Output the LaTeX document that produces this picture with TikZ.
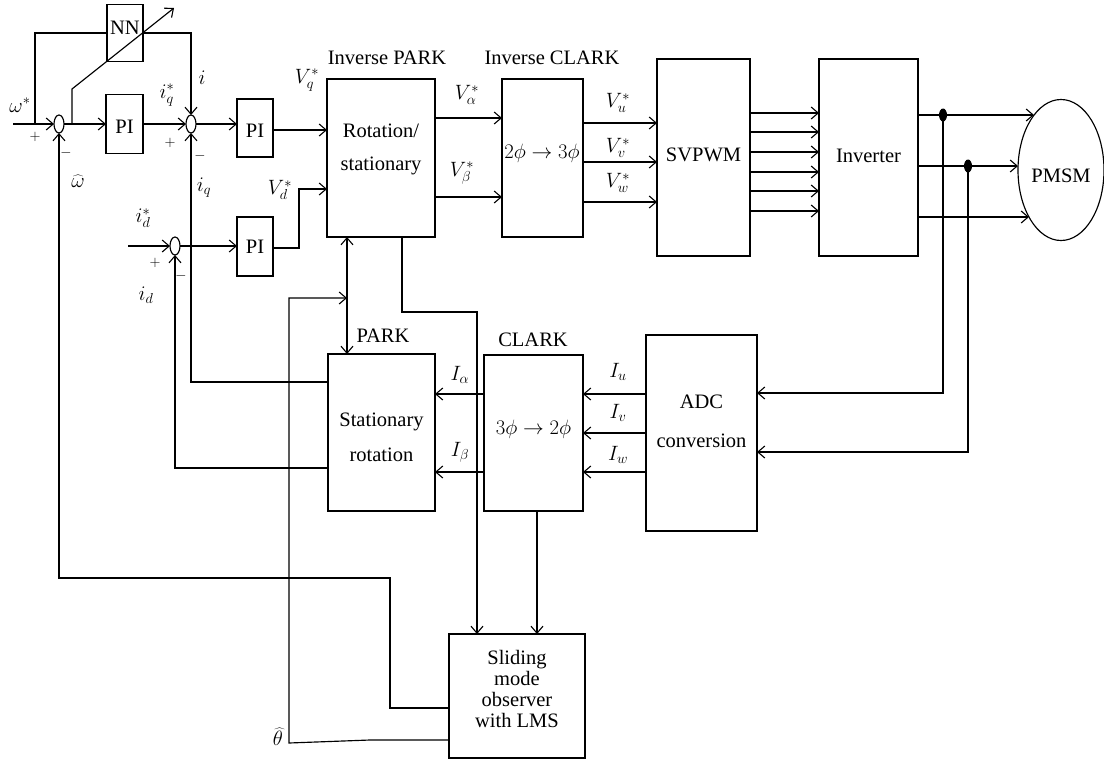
\documentclass[tikz,border=0pt]{standalone}
\usepackage{fontspec}
\setmainfont{Liberation Serif}
\usetikzlibrary{arrows.meta,shapes.geometric}
\begin{document}
\begin{tikzpicture}[x=1pt,y=-1pt,line width=1.15pt,
  every node/.style={font=\fontsize{20.5}{22}\selectfont},
  box/.style={draw,rectangle,inner sep=0pt,outer sep=0pt},
  sumj/.style={draw,ellipse,minimum width=10,minimum height=18,inner sep=0pt,outer sep=0pt},
  dotj/.style={fill,ellipse,minimum width=8,minimum height=13,inner sep=0pt},
  arr/.style={-{Straight Barb[length=7pt,width=12pt,line width=1.1pt]}},
  barr/.style={{Straight Barb[length=7pt,width=12pt,line width=1.1pt]}-{Straight Barb[length=7pt,width=12pt,line width=1.1pt]}},
  tb/.style={anchor=base,inner sep=0pt},
  lb/.style={inner sep=0pt},
  sg/.style={font=\fontsize{14}{16}\selectfont,inner sep=0pt}]
\useasboundingbox (0,0) rectangle (1104,761);
% blocks
\node[box,minimum width=36,minimum height=57] (nn) at (125,33) {};
\node[box,minimum width=37,minimum height=59] (pi1) at (124.5,124) {};
\node[box,minimum width=36,minimum height=58] (pi2) at (255,128) {};
\node[box,minimum width=36,minimum height=59] (pi3) at (255,246.5) {};
\node[box,minimum width=108,minimum height=158] (rot) at (381,158) {};
\node[box,minimum width=81,minimum height=158] (iclk) at (542.5,158) {};
\node[box,minimum width=93,minimum height=197] (svp) at (703.5,157.5) {};
\node[box,minimum width=99,minimum height=197] (inv) at (868.5,157.5) {};
\node[draw,ellipse,minimum width=86,minimum height=141,inner sep=0pt] (pmsm) at (1061,170) {};
\node[box,minimum width=107,minimum height=157] (stat) at (381.5,432.5) {};
\node[box,minimum width=99,minimum height=156] (clk) at (533.5,433) {};
\node[box,minimum width=111,minimum height=196] (adc) at (701.5,433) {};
\node[box,minimum width=136,minimum height=124] (sm) at (517,696) {};
\node[sumj] (s1) at (59,124) {};
\node[sumj] (s2) at (191,124) {};
\node[sumj] (s3) at (175,246) {};
\node[dotj] (d1) at (943,115) {};
\node[dotj] (d2) at (968,166) {};
% texts in blocks
\node[tb] at (125,34) {NN};
\node[tb] at (124.5,133) {PI};
\node[tb] at (255,137) {PI};
\node[tb] at (255,253) {PI};
\node[tb] at (381,137) {Rotation/};
\node[tb] at (381,170) {stationary};
\node[tb] at (542,158) {$2\phi\rightarrow 3\phi$};
\node[tb] at (703.5,161) {SVPWM};
\node[tb] at (868.5,162) {Inverter};
\node[tb] at (1061,182) {PMSM};
\node[tb] at (381.5,426) {Stationary};
\node[tb] at (381.5,461) {rotation};
\node[tb] at (533.5,434) {$3\phi\rightarrow 2\phi$};
\node[tb] at (701.5,408) {ADC};
\node[tb] at (701.5,447) {conversion};
\node[tb] at (517,664) {Sliding};
\node[tb] at (517,685) {mode};
\node[tb] at (517,706) {observer};
\node[tb] at (517,727) {with LMS};
% titles
\node[tb] at (387,64) {Inverse PARK};
\node[tb] at (552,64) {Inverse CLARK};
\node[tb] at (383,342) {PARK};
\node[tb] at (533,346) {CLARK};
% signal labels
\node[lb] at (20,105) {$\omega^*$};
\node[sg] at (35,137) {$+$};
\node[sg] at (66,153) {$-$};
\node[lb] at (78,181) {$\widehat{\omega}$};
\node[lb] at (167,95) {$i_q^*$};
\node[lb] at (202,78) {$i$};
\node[sg] at (170,143) {$+$};
\node[sg] at (200,156) {$-$};
\node[lb] at (204,188) {$i_q$};
\node[lb] at (307,80) {$V_q^*$};
\node[lb] at (280,190) {$V_d^*$};
\node[lb] at (143,218) {$i_d^*$};
\node[sg] at (155,263) {$+$};
\node[sg] at (181,276) {$-$};
\node[lb] at (146,295) {$i_d$};
\node[lb] at (467,95) {$V_\alpha^*$};
\node[lb] at (462,173) {$V_\beta^*$};
\node[lb] at (618,103) {$V_u^*$};
\node[lb] at (618,148) {$V_v^*$};
\node[lb] at (618,183) {$V_w^*$};
\node[lb] at (460,375) {$I_\alpha$};
\node[lb] at (460,452) {$I_\beta$};
\node[lb] at (618,372) {$I_u$};
\node[lb] at (618,413) {$I_v$};
\node[lb] at (618,455) {$I_w$};
\node[lb] at (278,737) {$\widehat{\theta}$};
% coordinates
\coordinate (win) at (13,124);
\coordinate (br1) at (35,124);
\coordinate (br2) at (72,124);
\coordinate (nntip) at (174,8);
\coordinate (idin) at (128,246);
\coordinate (th) at (289,743);
\coordinate (pmu) at (1034,115);
\coordinate (pmv) at (1018,166);
\coordinate (pmw) at (1029,217);
% connectors, speed loop
\draw[arr] (win) -- (s1.west);
\draw (br1) -- (br1 |- nn.west) -- (nn.west);
\draw[arr] (s1.east) -- (pi1.west);
\draw[arr] (br2) -- (72,89) -- (nntip);
\draw[arr] (pi1.east) -- (s2.west);
\draw[arr] (nn.east) -| (s2.north);
\draw[arr] (s2.east) -- (pi2.west |- s2.east);
\draw[arr] (pi2.east |- 0,130) -- (rot.west |- 0,130);
\draw[arr] (idin) -- (s3.west);
\draw[arr] (s3.east) -- (pi3.west |- s3.east);
\draw[arr] (pi3.east |- 0,248) -- (299,248) -- (299,189) -- (rot.west |- 0,189);
% forward path
\draw[arr] (rot.east |- 0,118) -- (iclk.west |- 0,118);
\draw[arr] (rot.east |- 0,197) -- (iclk.west |- 0,197);
\foreach \y in {123,162,202} \draw[arr] (iclk.east |- 0,\y) -- (svp.west |- 0,\y);
\foreach \y in {113,132,152,172,191,211} \draw[arr] (svp.east |- 0,\y) -- (inv.west |- 0,\y);
\draw[arr] (inv.east |- pmu) -- (pmu);
\draw[arr] (inv.east |- pmv) -- (pmv);
\draw[arr] (inv.east |- pmw) -- (pmw);
% current measurement
\draw[arr] (d1.center) -- (943,393) -- (adc.east |- 0,393);
\draw[arr] (d2.center) -- (968,452) -- (adc.east |- 0,452);
\foreach \y in {394,433,472} \draw[arr] (adc.west |- 0,\y) -- (clk.east |- 0,\y);
\draw[arr] (clk.west |- 0,394) -- (stat.east |- 0,394);
\draw[arr] (clk.west |- 0,472) -- (stat.east |- 0,472);
\draw[arr] (stat.west |- 0,382) -| (s2.south);
\draw[arr] (stat.west |- 0,468) -| (s3.south);
\draw[barr] (rot.south -| 347,0) -- (stat.north -| 347,0);
% observer
\draw[arr] (rot.south -| 402,0) -- (402,312) -- (477,312) -- (sm.north -| 477,0);
\draw[arr] (clk.south -| 537,0) -- (sm.north -| 537,0);
\draw[arr] (sm.west |- 0,708) -- (390,708) -- (390,578) -- (59,578) -- (s1.south);
\draw[arr] (sm.west |- 0,740) -- (370,740) -- (th) -- (289,298) -- (347,298);
\end{tikzpicture}
\end{document}
